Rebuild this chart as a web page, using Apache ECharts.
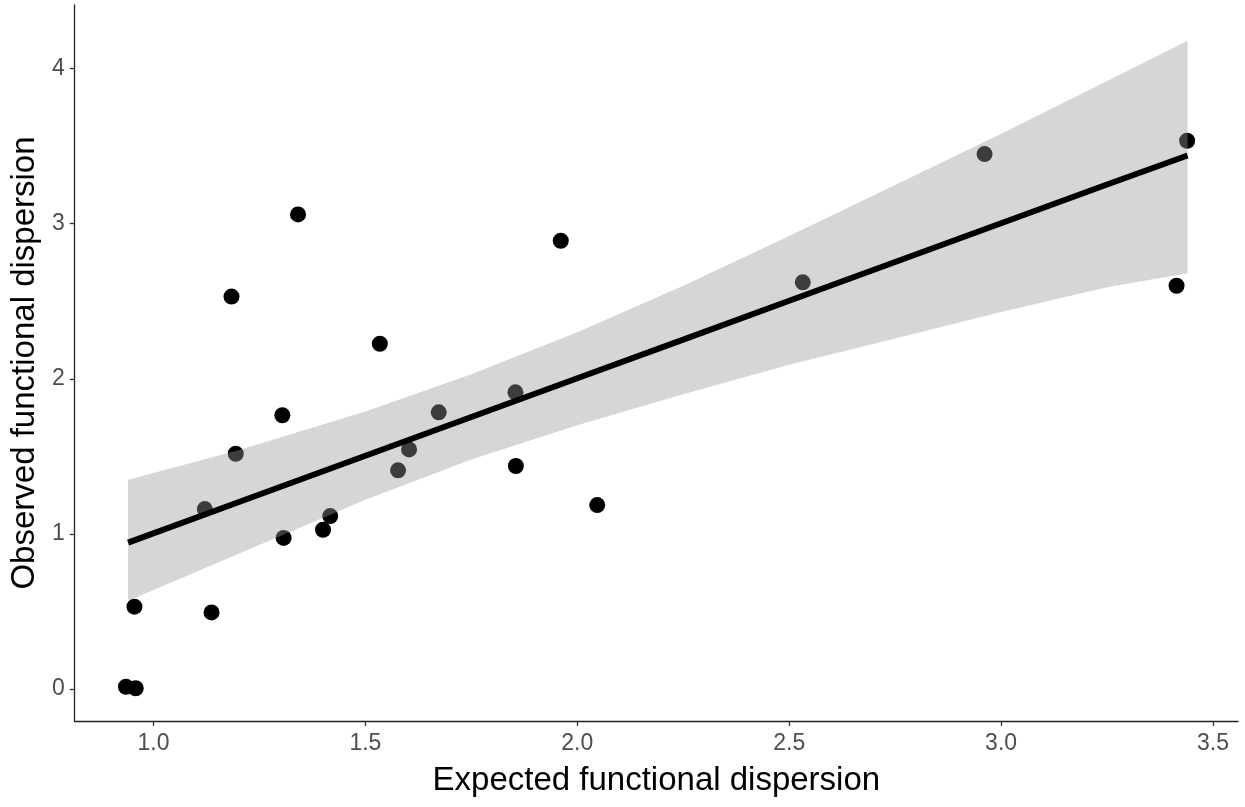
<!DOCTYPE html>
<html lang="en">
<head>
    <meta charset="UTF-8">
    <title>Observed vs expected functional dispersion</title>
    <style>
        html, body { margin: 0; padding: 0; background: #fff; }
        #chart { width: 1245px; height: 807px; }
    </style>
</head>
<body>
    <div id="chart"></div>
    <script src="https://cdn.jsdelivr.net/npm/echarts@6/dist/echarts.min.js"></script>
    <script>
        // observed points
        var expected = [0.935, 0.958, 0.955, 1.121, 1.137, 1.184, 1.194, 1.304, 1.307, 1.341, 1.400, 1.417,
                        1.534, 1.577, 1.603, 1.673, 1.854, 1.855, 1.961, 2.047, 2.532, 2.961, 3.414, 3.439];
        var observed = [0.015, 0.005, 0.531, 1.160, 0.494, 2.530, 1.517, 1.765, 0.974, 3.060, 1.027, 1.115,
                        2.226, 1.410, 1.545, 1.784, 1.913, 1.438, 2.890, 1.186, 2.622, 3.449, 2.600, 3.535];

        // lm smoother and its confidence band
        var bandX     = [0.94, 1.20, 1.50, 1.75, 2.00, 2.25, 2.50, 2.75, 3.00, 3.25, 3.44];
        var fitY      = [0.944, 1.204, 1.504, 1.754, 2.004, 2.253, 2.503, 2.753, 3.003, 3.253, 3.440];
        var bandLower = [0.57, 0.87, 1.22, 1.48, 1.70, 1.90, 2.09, 2.26, 2.43, 2.59, 2.68];
        var bandUpper = [1.35, 1.54, 1.79, 2.03, 2.30, 2.60, 2.92, 3.25, 3.58, 3.92, 4.18];

        var xTicks = [1.0, 1.5, 2.0, 2.5, 3.0, 3.5];
        var yTicks = [0, 1, 2, 3, 4];

        var points = expected.map(function (x, i) { return [x, observed[i]]; });
        var fitLine = bandX.map(function (x, i) { return [x, fitY[i]]; });

        var font = "'Liberation Sans', Arial, sans-serif";
        var tickLabel = { fontFamily: font, fontSize: 23, color: '#4D4D4D' };

        var chart = echarts.init(document.getElementById('chart'));
        chart.setOption({
            animation: false,
            backgroundColor: '#ffffff',
            grid: { left: 72, right: 7, top: 5, bottom: 86, containLabel: false },
            xAxis: {
                type: 'value',
                min: 0.814,
                max: 3.559,
                name: 'Expected functional dispersion',
                nameLocation: 'middle',
                nameGap: 43,
                nameTextStyle: { fontFamily: font, fontSize: 33, color: '#000' },
                axisLine: { onZero: false, lineStyle: { color: '#222', width: 1.3 } },
                axisTick: { customValues: xTicks, length: 5, lineStyle: { color: '#333', width: 1.3 } },
                axisLabel: Object.assign({
                    customValues: xTicks,
                    margin: 11,
                    formatter: function (v) { return v.toFixed(1); }
                }, tickLabel),
                splitLine: { show: false }
            },
            yAxis: {
                type: 'value',
                min: -0.206,
                max: 4.41,
                name: 'Observed functional dispersion',
                nameLocation: 'middle',
                nameRotate: 90,
                nameGap: 32,
                nameTextStyle: { fontFamily: font, fontSize: 33, color: '#000' },
                axisLine: { show: true, onZero: false, lineStyle: { color: '#222', width: 1.3 } },
                axisTick: { show: true, customValues: yTicks, length: 5, lineStyle: { color: '#333', width: 1.3 } },
                axisLabel: Object.assign({
                    customValues: yTicks,
                    margin: 10
                }, tickLabel),
                splitLine: { show: false }
            },
            series: [
                {
                    type: 'scatter',
                    z: 1,
                    data: points,
                    symbol: 'circle',
                    symbolSize: 16,
                    itemStyle: { color: '#000', opacity: 1 }
                },
                {
                    type: 'custom',
                    z: 2,
                    data: [[bandX[0], bandLower[0]]],
                    renderItem: function (params, api) {
                        var pts = [];
                        for (var i = 0; i < bandX.length; i++) {
                            pts.push(api.coord([bandX[i], bandUpper[i]]));
                        }
                        for (var j = bandX.length - 1; j >= 0; j--) {
                            pts.push(api.coord([bandX[j], bandLower[j]]));
                        }
                        return {
                            type: 'polygon',
                            shape: { points: pts },
                            style: { fill: 'rgba(153,153,153,0.4)', stroke: null }
                        };
                    },
                    silent: true
                },
                {
                    type: 'line',
                    z: 3,
                    data: fitLine,
                    symbol: 'none',
                    lineStyle: { color: '#000', width: 6 },
                    silent: true
                }
            ]
        });
    </script>
</body>
</html>
